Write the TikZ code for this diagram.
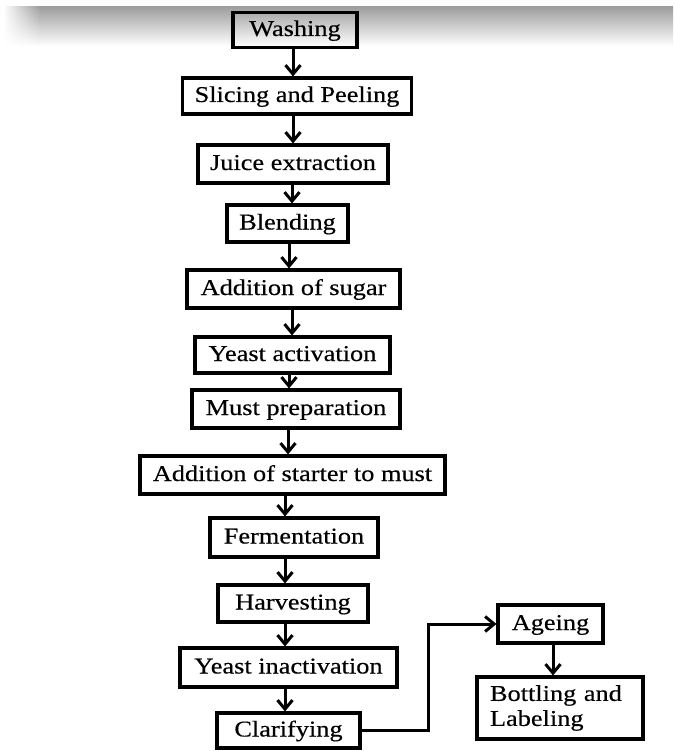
\documentclass[tikz,border=0pt]{standalone}
\usepackage{fontspec}
\setmainfont[FakeStretch=1.165,FakeBold=0.4]{Liberation Serif}
\usetikzlibrary{arrows.meta,fadings}
\tikzfading[name=fadeR, left color=transparent!0, right color=transparent!100]
\begin{document}
\begin{tikzpicture}[x=1pt,y=-1pt,
  boxbase/.style={draw, line width=3.1pt, inner sep=0pt, font=\fontsize{22.6}{25}\selectfont},
  box/.style={boxbase, text height=16.5pt, text depth=4.5pt},
  arr/.style={line width=3pt, -{Straight Barb[length=9pt,width=15pt]}},
]
\useasboundingbox (0,0) rectangle (673,751);
\fill[white] (0,0) rectangle (673,751);
% shadow band at top
\shade[top color=black!38, middle color=black!18, bottom color=white] (5,7) rectangle (673,46);
\fill[white, path fading=fadeR, fit fading=true] (3,6) rectangle (40,48);

% main column
\node[box, minimum width=124pt, minimum height=35pt] (wash)  at (295,30)    {Washing};
\node[box, minimum width=229pt, minimum height=36pt] (slice) at (297,96)    {Slicing and Peeling};
\node[box, minimum width=190pt, minimum height=38pt] (juice) at (293,164)   {Juice extraction};
\node[box, minimum width=121pt, minimum height=37pt] (blend) at (287.5,223.5) {Blending};
\node[box, minimum width=213pt, minimum height=38pt] (sugar) at (293.5,289) {Addition of sugar};
\node[box, minimum width=195pt, minimum height=36pt] (yact)  at (292.5,355) {Yeast activation};
\node[box, minimum width=208pt, minimum height=38pt] (must)  at (296,409)   {Must preparation};
\node[box, minimum width=305pt, minimum height=38pt] (start) at (292.5,475) {Addition of starter to must};
\node[box, minimum width=168pt, minimum height=39pt] (ferm)  at (294,537.5) {Fermentation};
\node[box, minimum width=150pt, minimum height=37pt] (harv)  at (293,603.5) {Harvesting};
\node[box, minimum width=217pt, minimum height=39pt] (yinact) at (288.5,667.5) {Yeast inactivation};
\node[box, minimum width=143pt, minimum height=35pt] (clar)  at (288.5,730.5) {Clarifying};

% side branch
\node[box, minimum width=105pt, minimum height=38pt] (age)   at (550.5,624) {Ageing};
\node[boxbase, text width=140pt, inner xsep=13pt, minimum height=62pt, align=left] (bottle) at (560,708) {Bottling and\\Labeling};

% arrow columns
\coordinate (k293) at (293,0);
\coordinate (k292) at (292,0);
\coordinate (k289) at (289,0);
\coordinate (k288) at (288,0);
\coordinate (k285) at (285,0);
\coordinate (k553) at (553,0);
\coordinate (bendx) at (428,0);

\draw[arr] (wash.south -| k293)  -- (slice.north -| k293);
\draw[arr] (slice.south -| k293) -- (juice.north -| k293);
\draw[arr] (juice.south -| k292) -- (blend.north -| k292);
\draw[arr] (blend.south -| k289) -- (sugar.north -| k289);
\draw[arr] (sugar.south -| k292) -- (yact.north -| k292);
\draw[arr] ([yshift=4pt]yact.south -| k289)  -- (must.north -| k289);
\draw[arr] (must.south -| k288)  -- (start.north -| k288);
\draw[arr] (start.south -| k285) -- (ferm.north -| k285);
\draw[arr] (ferm.south -| k285)  -- (harv.north -| k285);
\draw[arr] (harv.south -| k285)  -- (yinact.north -| k285);
\draw[arr] (yinact.south -| k285) -- (clar.north -| k285);

\draw[arr] (clar.east) -- (clar.east -| bendx) |- (age.west);
\draw[arr] (age.south -| k553) -- (bottle.north -| k553);
\end{tikzpicture}
\end{document}
